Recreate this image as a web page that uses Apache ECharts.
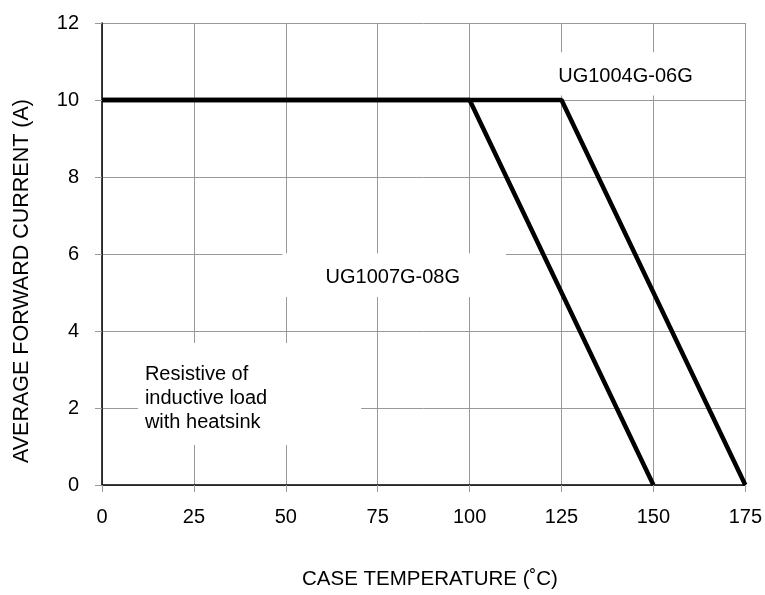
<!DOCTYPE html>
<html>
<head>
<meta charset="utf-8">
<script src="https://cdn.jsdelivr.net/npm/echarts@6/dist/echarts.min.js"></script>
<style>html,body{margin:0;padding:0;background:#fff}#c{width:765px;height:595px}</style>
</head>
<body>
<div id="c"></div>
<script>
const xTicks = [0, 25, 50, 75, 100, 125, 150, 175];
const yTicks = [0, 2, 4, 6, 8, 10, 12];
const seriesNames = ['UG1004G-06G', 'UG1007G-08G'];
const ug1004Temp = [0, 125, 175];
const ug1004Current = [10, 10, 0];
const ug1007Temp = [0, 100, 150];
const ug1007Current = [10, 10, 0];
const noteText = 'Resistive of\ninductive load\nwith heatsink';
const xTitle = 'CASE TEMPERATURE (˚C)';
const yTitle = 'AVERAGE FORWARD CURRENT (A)';

const chart = echarts.init(document.getElementById('c'));
const font = 'Liberation Sans, Arial, sans-serif';
chart.setOption({
  animation: false,
  grid: { left: 102, right: 18, top: 23, bottom: 110 },
  xAxis: {
    type: 'value', min: xTicks[0], max: xTicks[xTicks.length - 1], interval: 25,
    axisLine: { show: true, lineStyle: { color: '#000', width: 1.5 } },
    axisTick: { show: true, length: 7, lineStyle: { color: '#999' } },
    axisLabel: { fontFamily: font, fontSize: 20, color: '#000', margin: 22 },
    splitLine: { show: true, lineStyle: { color: '#999', width: 1 } }
  },
  yAxis: {
    type: 'value', min: yTicks[0], max: yTicks[yTicks.length - 1], interval: 2,
    axisLine: { show: true, lineStyle: { color: '#000', width: 1.5 } },
    axisTick: { show: true, length: 7, lineStyle: { color: '#999' } },
    axisLabel: { fontFamily: font, fontSize: 20, color: '#000', margin: 23 },
    splitLine: { show: true, lineStyle: { color: '#999', width: 1 } }
  },
  series: [
    { name: seriesNames[0], type: 'line', showSymbol: false, z: 5,
      lineStyle: { color: '#000', width: 4.5 },
      data: ug1004Temp.map((t, i) => [t, ug1004Current[i]]) },
    { name: seriesNames[1], type: 'line', showSymbol: false, z: 5,
      lineStyle: { color: '#000', width: 4.5 },
      data: ug1007Temp.map((t, i) => [t, ug1007Current[i]]) }
  ]
});
const px = (d) => chart.convertToPixel({ gridIndex: 0 }, d);
function box(x0, y0, x1, y1) {
  const a = px([x0, y1]), b = px([x1, y0]);
  return { type: 'rect', z: 90, shape: { x: a[0], y: a[1], width: b[0] - a[0], height: b[1] - a[1] },
           style: { fill: '#fff' } };
}
function label(txt, d, align) {
  const p = px(d);
  return { type: 'text', z: 100, x: p[0], y: p[1],
           style: { text: txt, fontFamily: font, fontSize: 20, lineHeight: 24, fill: '#000',
                    align: align, verticalAlign: 'middle' } };
}
chart.setOption({
  graphic: [
    box(121, 10.12, 164, 11.24),
    label(seriesNames[0], [142.4, 10.60], 'center'),
    box(49.1, 4.88, 109.9, 6.02),
    label(seriesNames[1], [79.1, 5.40], 'center'),
    box(9.77, 1.04, 70.5, 3.69),
    label(noteText, [11.67, 2.24], 'left'),
    { type: 'text', x: 430, y: 579,
      style: { text: xTitle, fontFamily: font, fontSize: 20.5, fill: '#000', align: 'center', verticalAlign: 'middle' } },
    { type: 'text', x: 22.5, y: 281, rotation: Math.PI / 2,
      style: { text: yTitle, fontFamily: font, fontSize: 21.5, fill: '#000', align: 'center', verticalAlign: 'middle' } }
  ]
});
</script>
</body>
</html>
